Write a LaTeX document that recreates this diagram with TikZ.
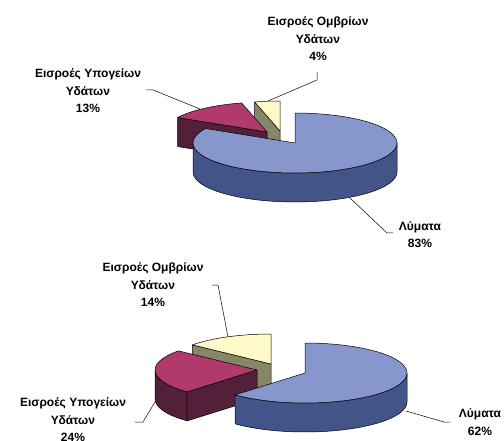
\documentclass[tikz,border=0pt]{standalone}
\usepackage{fontspec}
\setmainfont{Liberation Sans}

\definecolor{sewtop}{HTML}{8797CE}
\definecolor{sewside}{HTML}{435489}
\definecolor{gndtop}{HTML}{B03A6C}
\definecolor{gndside}{HTML}{522139}
\definecolor{raintop}{HTML}{FFF9CA}
\definecolor{rainside}{HTML}{868668}

% top face of a slice: centre, start angle, end angle, colour
\newcommand{\slicetop}[4]{%
  \filldraw[face,fill=#4] (#1) -- ([shift={(#1)}]#2:102 and 30)
    arc[start angle=#2,end angle=#3,x radius=102,y radius=30] -- cycle;}
% flat cut face of a slice: centre, angle, colour
\newcommand{\slicecut}[3]{%
  \filldraw[face,fill=#3] (#1) -- ([shift={(#1)}]#2:102 and 30) -- ++(0,-29)
    -- ([yshift=-29pt]#1) -- cycle;}
% round outer wall of a slice: centre, from, to, colour
\newcommand{\slicewall}[4]{%
  \filldraw[face,fill=#4] ([shift={(#1)}]#2:102 and 30)
    arc[start angle=#2,end angle=#3,x radius=102,y radius=30] -- ++(0,-29)
    arc[start angle=#3,end angle=#2,x radius=102,y radius=30] -- cycle;}

\begin{document}
\begin{tikzpicture}[x=1pt,y=1pt,
    face/.style={draw=black,line width=0.5pt,line join=round},
    lead/.style={draw=black,line width=0.5pt},
    lbl/.style={align=center,inner sep=0pt,font=\bfseries\fontsize{12}{17.5}\selectfont}]
    \useasboundingbox (0,0) rectangle (504,440);

    % upper pie
    \coordinate (ur) at (280,309);
    \coordinate (ug) at (267,308);
    \coordinate (us) at (295,297);
    \slicecut{ur}{104.4}{rainside}
    \slicetop{ur}{90}{104.4}{raintop}
    \slicecut{ug}{151.2}{gndside}
    \slicetop{ug}{104.4}{151.2}{gndtop}
    \slicewall{us}{180}{360}{sewside}
    \slicetop{us}{151.2}{450}{sewtop}

    % lower pie
    \coordinate (lr) at (271,76);
    \coordinate (lg) at (257,70);
    \coordinate (ls) at (305,67);
    \slicecut{lr}{140.4}{rainside}
    \slicetop{lr}{90}{140.4}{raintop}
    \slicewall{lg}{180}{226.8}{gndside}
    \slicecut{lg}{226.8}{gndside}
    \slicetop{lg}{140.4}{226.8}{gndtop}
    \slicewall{ls}{226.8}{360}{sewside}
    \slicetop{ls}{226.8}{450}{sewtop}

    % labels
    \node[lbl] (urlbl) at (318,401) {Εισροές Ομβρίων\\Υδάτων\\4\%};
    \node[lbl] (uglbl) at (88,349)  {Εισροές Υπογείων\\Υδάτων\\13\%};
    \node[lbl] (uslbl) at (420,205.5) {Λύματα\\83\%};
    \node[lbl] (lrlbl) at (153,155) {Εισροές Ομβρίων\\Υδάτων\\14\%};
    \node[lbl] (lglbl) at (73,20)   {Εισροές Υπογείων\\Υδάτων\\24\%};
    \node[lbl] (lslbl) at (480,18)  {Λύματα\\62\%};

    % leader lines: start/knee/end
    \def\leaders{317/368/317/360/268/339, 146/350/153/350/200/331,
      350/242/387/207/393/207, 212/155/218/155/228/103,
      135/18/143/18/155/38, 406/29/444/18/450/18}
    \foreach \ax/\ay/\bx/\by/\cx/\cy [count=\i] in \leaders
    {   \coordinate (la\i) at (\ax,\ay);
        \coordinate (lb\i) at (\bx,\by);
        \coordinate (lc\i) at (\cx,\cy);
        \draw[lead] (la\i) -- (lb\i) -- (lc\i);
    }
\end{tikzpicture}
\end{document}
